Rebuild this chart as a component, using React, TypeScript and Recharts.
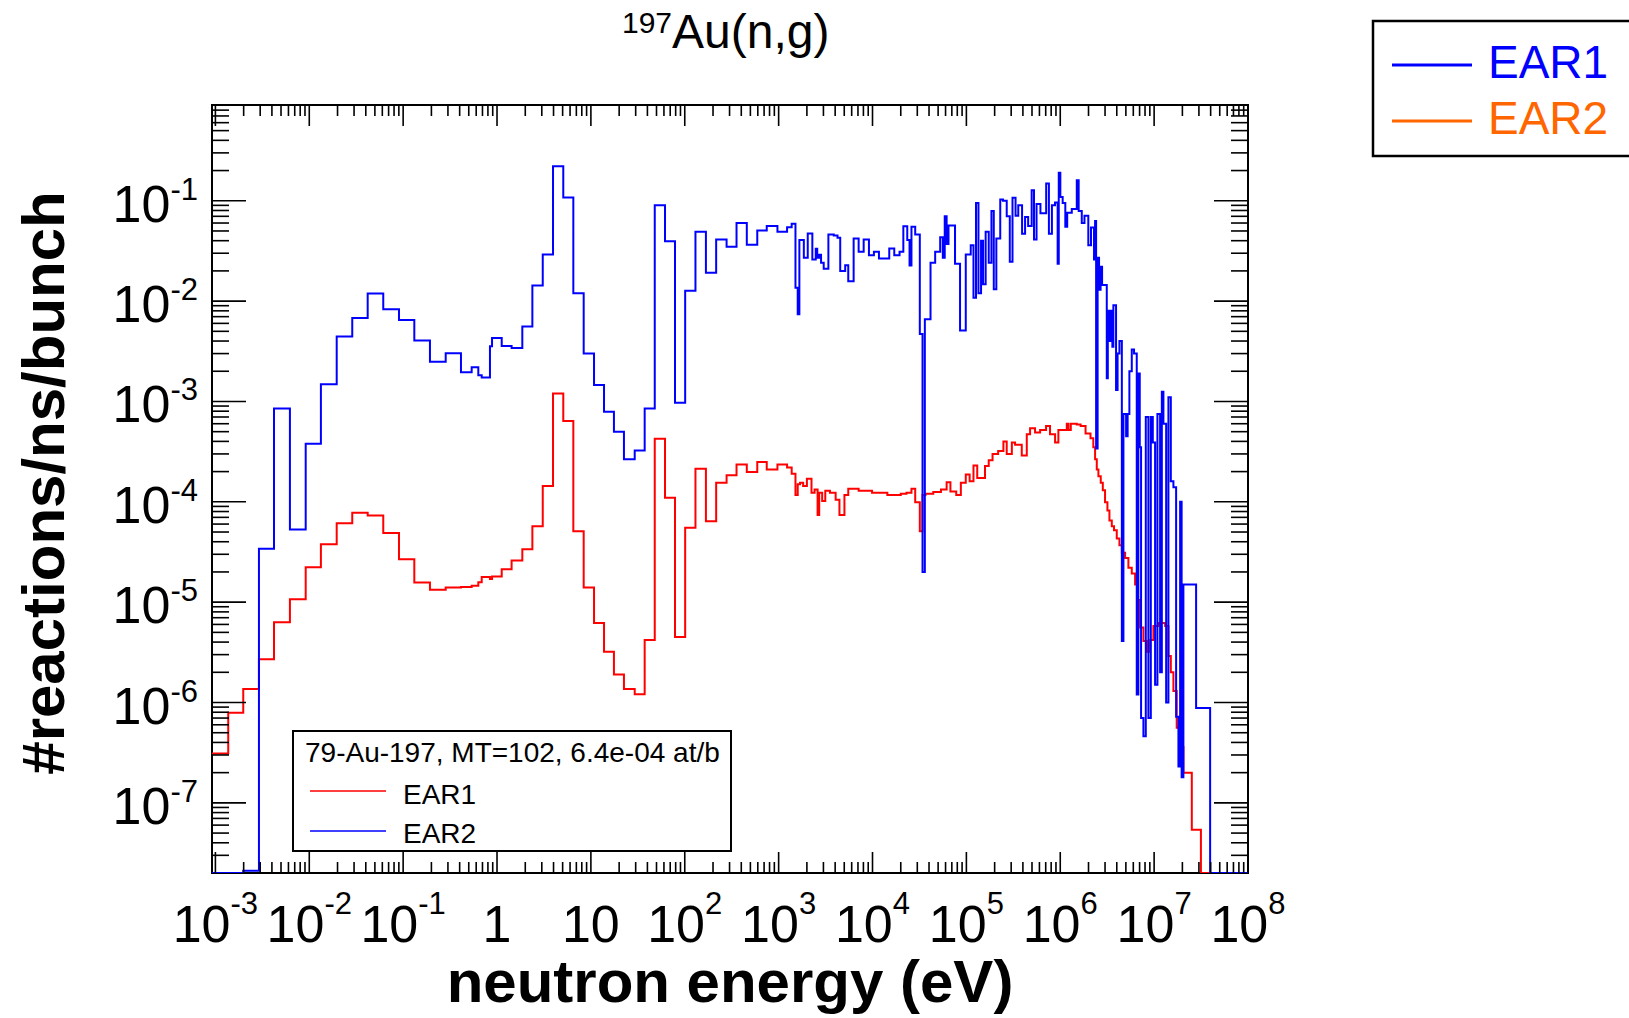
import { LineChart, Line, XAxis, YAxis, ReferenceArea } from "recharts";

const FONT = '"Liberation Sans", Arial, Helvetica, sans-serif';

// axis ranges
const X_MIN = 9.2e-4;
const X_MAX = 1e8;
const Y_MIN = 2e-8;
const Y_MAX = 0.9;

// plot frame in page pixels
const LEFT = 212;
const RIGHT = 1248;
const TOP = 105;
const BOTTOM = 873;
const W = 1629;
const H = 1018;
const AXIS_W = 60;
const AXIS_H = 60;

const xMajor = [1e-3, 1e-2, 1e-1, 1, 10, 1e2, 1e3, 1e4, 1e5, 1e6, 1e7, 1e8];
const xLabels: [string, string][] = [
  ["10", "-3"], ["10", "-2"], ["10", "-1"], ["1", ""], ["10", ""], ["10", "2"],
  ["10", "3"], ["10", "4"], ["10", "5"], ["10", "6"], ["10", "7"], ["10", "8"],
];
const yMajor = [1e-8, 1e-7, 1e-6, 1e-5, 1e-4, 1e-3, 1e-2, 1e-1];
const yLabels: [string, string][] = [
  ["10", "-8"], ["10", "-7"], ["10", "-6"], ["10", "-5"], ["10", "-4"], ["10", "-3"], ["10", "-2"], ["10", "-1"],
];

// bin low edges (eV) and rates, blue histogram
const blueEnergy = [
  9.2e-4, 1.98e-3, 2.91e-3, 4.21e-3, 6.22e-3, 9.16e-3, 1.33e-2, 1.96e-2, 2.87e-2, 4.19e-2,
  6.14e-2, 9.03e-2, 0.1315, 0.193, 0.284, 0.413, 0.537, 0.632, 0.687, 0.841,
  0.885, 1.122, 1.43, 1.86, 2.38, 3.07, 3.95, 5.08, 6.5, 8.38,
  10.8, 13.8, 17.6, 22.5, 29.3, 37.4, 47.9, 61.6, 78.7, 101,
  130, 168, 216, 279, 356, 458, 592, 747, 971, 1230,
  1377, 1511, 1597, 1663, 1855, 2042, 2286, 2485, 2577, 2699,
  2831, 3020, 3388, 3864, 4238, 4530, 5118, 5516, 6295, 7116,
  8050, 9162, 1.035e4, 1.171e4, 1.508e4, 1.705e4, 1.941e4, 2.13e4, 2.345e4, 2.48e4,
  2.6e4, 2.85e4, 3.19e4, 3.41e4, 3.61e4, 4.15e4, 4.65e4, 5.26e4, 5.61e4, 5.88e4,
  6.16e4, 6.45e4, 7.57e4, 8.56e4, 9.85e4, 1.113e5, 1.19e5, 1.267e5, 1.345e5, 1.433e5,
  1.506e5, 1.604e5, 1.73e5, 1.849e5, 1.958e5, 2.085e5, 2.295e5, 2.453e5, 2.69e5, 2.9e5,
  3.1e5, 3.34e5, 3.57e5, 3.92e5, 4.22e5, 4.55e5, 4.96e5, 5.25e5, 5.59e5, 6.15e5,
  7.08e5, 7.57e5, 8.15e5, 8.79e5, 9.38e5, 9.64e5, 1.002e6, 1.061e6, 1.132e6, 1.186e6,
  1.327e6, 1.5e6, 1.571e6, 1.695e6, 1.811e6, 1.99e6, 2.125e6, 2.29e6, 2.35e6, 2.41e6,
  2.5e6, 2.59e6, 2.69e6, 2.79e6, 3.13e6, 3.21e6, 3.36e6, 3.48e6, 3.59e6, 3.68e6,
  3.93e6, 4.08e6, 4.27e6, 4.53e6, 4.71e6, 5.03e6, 5.22e6, 5.45e6, 5.78e6, 6.11e6,
  6.53e6, 6.79e6, 7.03e6, 7.26e6, 7.69e6, 8.15e6, 8.69e6, 9.22e6, 9.68e6, 1.024e7,
  1.084e7, 1.158e7, 1.208e7, 1.256e7, 1.343e7, 1.42e7, 1.506e7, 1.605e7, 1.715e7, 1.815e7,
  1.892e7, 1.963e7, 2.05e7, 2.8e7, 3.95e7, 1e8,
];
const blueRate = [
  2e-8, 2.1e-8, 3.4e-5, 8.5e-4, 5.3e-5, 3.8e-4, 1.48e-3, 4.45e-3, 6.8e-3, 1.19e-2,
  8.3e-3, 6.5e-3, 4.06e-3, 2.49e-3, 3.03e-3, 1.96e-3, 2.19e-3, 1.82e-3, 1.73e-3, 3.55e-3,
  4.28e-3, 3.57e-3, 3.4e-3, 5.6e-3, 1.43e-2, 2.92e-2, 0.221, 0.108, 1.2e-2, 3.0e-3,
  1.46e-3, 7.9e-4, 5.0e-4, 2.65e-4, 3.24e-4, 8.5e-4, 9.0e-2, 3.94e-2, 9.7e-4, 1.27e-2,
  4.9e-2, 1.92e-2, 4.12e-2, 3.48e-2, 6.0e-2, 3.65e-2, 5.06e-2, 5.6e-2, 4.9e-2, 5.45e-2,
  5.9e-2, 1.36e-2, 7.4e-3, 4.06e-2, 2.7e-2, 4.72e-2, 2.6e-2, 3.33e-2, 2.7e-2, 2.9e-2,
  2.41e-2, 2.1e-2, 4.6e-2, 4.5e-2, 4.27e-2, 1.99e-2, 2.28e-2, 1.58e-2, 4.2e-2, 3.1e-2,
  4.1e-2, 2.87e-2, 3.1e-2, 2.66e-2, 3.35e-2, 2.87e-2, 3.1e-2, 5.58e-2, 4.06e-2, 2.27e-2,
  5.5e-2, 4.6e-2, 4.7e-3, 2.0e-5, 6.6e-3, 2.41e-2, 3.1e-2, 4.33e-2, 2.7e-2, 7.0e-2,
  3.7e-2, 5.67e-2, 2.36e-2, 5.1e-3, 2.92e-2, 3.6e-2, 1.08e-2, 9.5e-2, 1.2e-2, 4.0e-2,
  1.47e-2, 4.9e-2, 2.41e-2, 7.9e-2, 1.31e-2, 4.2e-2, 0.103, 0.1, 7.0e-2, 2.47e-2,
  0.107, 7.1e-2, 9.0e-2, 4.7e-2, 6.9e-2, 5.6e-2, 0.127, 4.1e-2, 9.3e-2, 7.5e-2,
  0.149, 4.7e-2, 9.0e-2, 9.6e-2, 2.36e-2, 0.19, 0.109, 9.5e-2, 5.5e-2, 7.6e-2,
  8.3e-2, 0.16, 7.9e-2, 6.0e-2, 7.1e-2, 3.6e-2, 5.4e-2, 2.6e-2, 6.3e-2, 3.4e-4,
  2.7e-2, 1.3e-2, 2.2e-2, 1.45e-2, 1.7e-3, 8e-3, 4e-3, 8e-3, 3.5e-3, 9.1e-3,
  1.3e-3, 3e-3, 4e-3, 4.1e-6, 7.5e-4, 4.5e-4, 7.5e-4, 2e-3, 3.3e-3, 3.0e-3,
  1.2e-6, 1.9e-3, 3.5e-4, 7e-7, 4.6e-7, 7e-4, 7e-7, 7e-4, 3.9e-4, 1.5e-6,
  7.5e-4, 2e-6, 1.25e-3, 6e-4, 1e-6, 1.1e-3, 1.6e-4, 1.4e-4, 7.2e-7, 2.3e-7,
  1.0e-4, 1.8e-7, 1.5e-5, 8.8e-7, 2e-8, 2e-8,
];

// red histogram
const redEnergy = [
  9.2e-4, 1.37e-3, 1.98e-3, 2.91e-3, 4.21e-3, 6.22e-3, 9.16e-3, 1.33e-2, 1.96e-2, 2.87e-2,
  4.19e-2, 6.14e-2, 9.03e-2, 0.1315, 0.193, 0.284, 0.413, 0.537, 0.632, 0.687,
  0.841, 0.885, 1.122, 1.43, 1.86, 2.38, 3.07, 3.95, 5.08, 6.5,
  8.38, 10.8, 13.8, 17.6, 22.5, 29.3, 37.4, 47.9, 61.6, 78.7,
  101, 130, 168, 216, 279, 356, 458, 592, 747, 971,
  1230, 1377, 1511, 1597, 1690, 1824, 2000, 2239, 2415, 2600,
  2704, 2910, 3140, 3521, 4048, 4443, 5023, 5516, 7116, 9886,
  1.439e4, 2.0e4, 2.3e4, 2.6e4, 2.85e4, 3.19e4, 3.41e4, 3.67e4, 4.44e4, 5.36e4,
  6.16e4, 6.76e4, 7.8e4, 8.73e4, 9.85e4, 1.083e5, 1.19e5, 1.305e5, 1.578e5, 1.73e5,
  1.9e5, 2.18e5, 2.48e5, 2.69e5, 3.05e5, 3.3e5, 3.89e5, 4.4e5, 4.77e5, 5.39e5,
  6.1e5, 7.06e5, 7.78e5, 8.81e5, 9.55e5, 1.174e6, 1.222e6, 1.295e6, 1.5e6, 1.65e6,
  1.86e6, 2.1e6, 2.25e6, 2.35e6, 2.45e6, 2.55e6, 2.7e6, 2.84e6, 3.0e6, 3.18e6,
  3.34e6, 3.54e6, 3.74e6, 4.0e6, 4.27e6, 4.53e6, 4.91e6, 5.32e6, 5.78e6, 6.27e6,
  6.64e6, 7.09e6, 7.69e6, 8.36e6, 9.06e6, 9.82e6, 1.11e7, 1.31e7, 1.42e7, 1.506e7,
  1.605e7, 1.74e7, 1.89e7, 2.05e7, 2.52e7, 3.15e7, 1e8,
];
const redRate = [
  3.1e-7, 7.9e-7, 1.36e-6, 2.7e-6, 6.3e-6, 1.07e-5, 2.23e-5, 3.78e-5, 6.1e-5, 7.8e-5,
  7.3e-5, 4.9e-5, 2.67e-5, 1.57e-5, 1.33e-5, 1.4e-5, 1.42e-5, 1.46e-5, 1.58e-5, 1.78e-5,
  1.7e-5, 1.8e-5, 2.13e-5, 2.6e-5, 3.37e-5, 5.7e-5, 1.44e-4, 1.2e-3, 6.4e-4, 5.1e-5,
  1.4e-5, 6.2e-6, 3.2e-6, 1.9e-6, 1.36e-6, 1.21e-6, 4.2e-6, 4.25e-4, 1.1e-4, 4.5e-6,
  5.5e-5, 2.14e-4, 6.4e-5, 1.55e-4, 1.84e-4, 2.36e-4, 1.98e-4, 2.5e-4, 2.1e-4, 2.36e-4,
  2.2e-4, 1.9e-4, 1.17e-4, 1.5e-4, 1.55e-4, 1.44e-4, 1.7e-4, 1.23e-4, 1.33e-4, 7.4e-5,
  1.23e-4, 1.02e-4, 1.29e-4, 1.23e-4, 1.05e-4, 7.4e-5, 1.17e-4, 1.35e-4, 1.29e-4, 1.23e-4,
  1.17e-4, 1.2e-4, 1.23e-4, 1.35e-4, 9.9e-5, 5.1e-5, 1.17e-4, 1.2e-4, 1.25e-4, 1.33e-4,
  1.57e-4, 1.27e-4, 1.17e-4, 1.55e-4, 1.87e-4, 1.6e-4, 2.3e-4, 1.73e-4, 2.28e-4, 2.6e-4,
  3.0e-4, 3.2e-4, 4.0e-4, 3.0e-4, 3.9e-4, 3.7e-4, 2.9e-4, 4.7e-4, 5.4e-4, 4.9e-4,
  5.2e-4, 5.7e-4, 4.7e-4, 3.9e-4, 5.2e-4, 6.0e-4, 5.2e-4, 6.0e-4, 5.9e-4, 5.7e-4,
  4.8e-4, 4.3e-4, 3.5e-4, 2.65e-4, 2.1e-4, 1.8e-4, 1.55e-4, 1.3e-4, 9.9e-5, 8.2e-5,
  6.5e-5, 5.7e-5, 5.2e-5, 4.3e-5, 3.7e-5, 3.1e-5, 2.75e-5, 2.2e-5, 1.93e-5, 1.5e-5,
  1.05e-5, 5.6e-6, 4.1e-6, 3.2e-6, 4.2e-6, 5.8e-6, 6.2e-6, 5.8e-6, 2.9e-6, 2.0e-6,
  1.3e-6, 5.6e-7, 3.6e-7, 2.0e-7, 5.4e-8, 2e-8, 2e-8,
];

const innerLegend = ["EAR1", "EAR2"];
const innerLegendColors = ["#ff0000", "#0000ff"];
const outerLegend = ["EAR1", "EAR2"];
const outerLegendColors = ["#0000ff", "#ff6600"];

const blueData = blueEnergy.map((e, i) => ({ e, v: blueRate[i] }));
const redData = redEnergy.map((e, i) => ({ e, v: redRate[i] }));

const MULT = [1, 2, 3, 4, 5, 6, 7, 8, 9];
const xTicks = xMajor.flatMap((m) => MULT.map((k) => k * m)).filter((v) => v >= X_MIN && v <= X_MAX * 1.0001);
const yTicks = yMajor.flatMap((m) => MULT.map((k) => k * m)).filter((v) => v > Y_MIN * 1.001 && v < Y_MAX);

const isMajor = (v: number) => Math.abs(Math.log10(v) - Math.round(Math.log10(v))) < 1e-6;

function XTick(props: any) {
  const { x, payload } = props;
  const v = payload.value;
  const major = isMajor(v);
  const len = major ? 21 : 11;
  const lab = major ? xLabels[Math.round(Math.log10(v)) + 3] : null;
  return (
    <g>
      <line x1={x} x2={x} y1={BOTTOM} y2={BOTTOM - len} stroke="#000" strokeWidth={1.6} />
      <line x1={x} x2={x} y1={TOP} y2={TOP + len} stroke="#000" strokeWidth={1.6} />
      {lab && (
        <text x={x} y={942} textAnchor="middle" fontFamily={FONT} fontSize={52} fill="#000">
          <tspan>{lab[0]}</tspan>
          {lab[1] && (
            <tspan dy={-28} fontSize={31}>
              {lab[1]}
            </tspan>
          )}
        </text>
      )}
    </g>
  );
}

function YTick(props: any) {
  const { y, payload } = props;
  const v = payload.value;
  const major = isMajor(v);
  const len = major ? 34 : 17;
  const lab = major ? yLabels[Math.round(Math.log10(v)) + 8] : null;
  return (
    <g>
      <line x1={LEFT} x2={LEFT + len} y1={y} y2={y} stroke="#000" strokeWidth={1.6} />
      <line x1={RIGHT} x2={RIGHT - len} y1={y} y2={y} stroke="#000" strokeWidth={1.6} />
      {lab && (
        <text x={198} y={y + 21} textAnchor="end" fontFamily={FONT} fontSize={52} fill="#000">
          <tspan>{lab[0]}</tspan>
          <tspan dy={-22} fontSize={31}>
            {lab[1]}
          </tspan>
        </text>
      )}
    </g>
  );
}

export default function App() {
  return (
    <div style={{ position: "absolute", left: 0, top: 0, width: W, height: H, background: "#fff" }}>
      <LineChart
        width={W}
        height={H}
        margin={{ top: TOP, left: LEFT - AXIS_W, right: W - RIGHT, bottom: H - BOTTOM - AXIS_H }}
      >
        <XAxis
          type="number"
          dataKey="e"
          scale="log"
          domain={[X_MIN, X_MAX]}
          allowDataOverflow
          ticks={xTicks}
          interval={0}
          tick={(p: any) => <XTick {...p} />}
          tickLine={false}
          axisLine={false}
          height={AXIS_H}
        />
        <YAxis
          type="number"
          dataKey="v"
          scale="log"
          domain={[Y_MIN, Y_MAX]}
          allowDataOverflow
          ticks={yTicks}
          interval={0}
          tick={(p: any) => <YTick {...p} />}
          tickLine={false}
          axisLine={false}
          width={AXIS_W}
        />
        <Line
          data={redData}
          dataKey="v"
          type="stepAfter"
          stroke="#ff0000"
          strokeWidth={2}
          dot={false}
          activeDot={false}
          isAnimationActive={false}
        />
        <Line
          data={blueData}
          dataKey="v"
          type="stepAfter"
          stroke="#0000ff"
          strokeWidth={2}
          dot={false}
          activeDot={false}
          isAnimationActive={false}
        />
        <ReferenceArea
          x1={X_MIN}
          x2={X_MAX}
          y1={Y_MIN}
          y2={Y_MAX}
          fill="none"
          fillOpacity={0}
          stroke="#000"
          strokeWidth={2}
          ifOverflow="visible"
        />
      </LineChart>

      <svg
        width={W}
        height={H}
        style={{ position: "absolute", left: 0, top: 0, pointerEvents: "none" }}
        fontFamily={FONT}
      >
        {/* title */}
        <text x={622} y={33} fontSize={30}>197</text>
        <text x={672} y={48} fontSize={48}>Au(n,g)</text>

        {/* axis titles */}
        <text
          transform="translate(64,483) rotate(-90)"
          textAnchor="middle"
          fontSize={60}
          fontWeight="bold"
        >
          #reactions/ns/bunch
        </text>
        <text x={730} y={1002} textAnchor="middle" fontSize={60} fontWeight="bold">
          neutron energy (eV)
        </text>

        {/* legend inside the frame */}
        <rect x={293} y={731} width={438} height={120} fill="#fff" stroke="#000" strokeWidth={2} />
        <text x={305} y={762} fontSize={28}>79-Au-197, MT=102, 6.4e-04 at/b</text>
        {innerLegend.map((name, i) => (
          <g key={name}>
            <line x1={310} x2={386} y1={791 + i * 40} y2={791 + i * 40} stroke={innerLegendColors[i]} strokeWidth={1.6} />
            <text x={403} y={804 + i * 39} fontSize={28}>{name}</text>
          </g>
        ))}

        {/* legend top right */}
        <rect x={1373} y={21} width={300} height={135} fill="#fff" stroke="#000" strokeWidth={2.5} />
        {outerLegend.map((name, i) => (
          <g key={name}>
            <line x1={1392} x2={1472} y1={65 + i * 56} y2={65 + i * 56} stroke={outerLegendColors[i]} strokeWidth={3} />
            <text x={1488} y={78 + i * 56} fontSize={46} fill={outerLegendColors[i]}>{name}</text>
          </g>
        ))}
      </svg>
    </div>
  );
}
